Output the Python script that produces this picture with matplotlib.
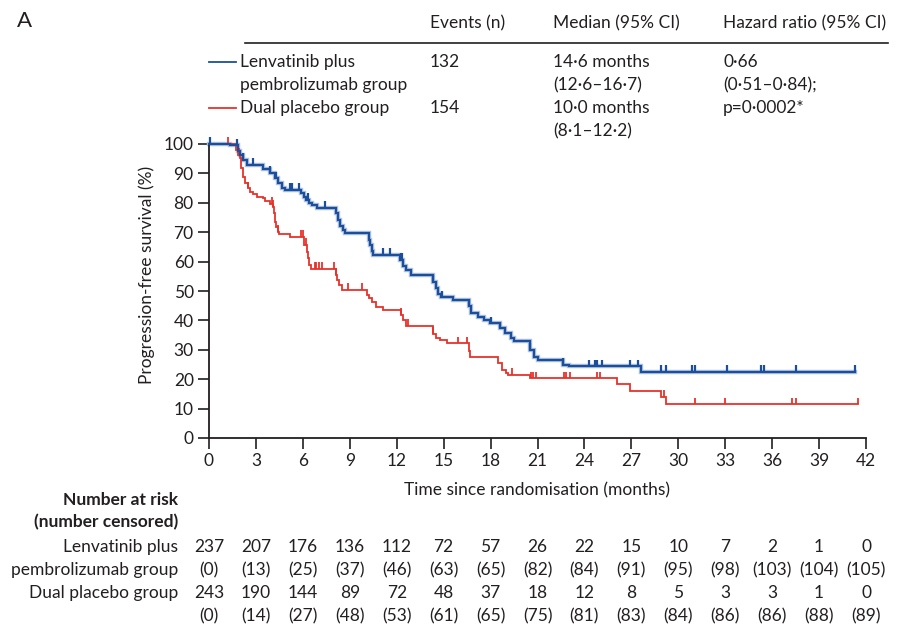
import numpy as np
import matplotlib
matplotlib.use('Agg')
import matplotlib.pyplot as plt
from matplotlib import font_manager
from matplotlib.transforms import blended_transform_factory

avail = {f.name for f in font_manager.fontManager.ttflist}
FONT = next((f for f in ['Lato', 'Liberation Sans', 'DejaVu Sans'] if f in avail), 'DejaVu Sans')
plt.rcParams['font.family'] = [FONT, 'DejaVu Sans']

# ---------------- data ----------------
lp_times = [0, 1.35, 1.85, 2.0, 2.2, 2.4, 3.45, 3.9, 4.2, 4.4, 4.65, 4.85, 5.9, 6.1, 6.2, 6.4,
            6.6, 6.9, 8.1, 8.25, 8.4, 8.55, 8.7, 10.2, 10.3, 10.4, 10.5, 12.2, 12.4, 12.6, 12.9,
            14.3, 14.5, 14.65, 14.8, 15.6, 16.6, 16.75, 17.2, 17.6, 17.95, 18.6, 18.9, 19.3, 19.5,
            20.5, 20.8, 21.0, 22.6, 23.0, 27.6]
lp_surv = [100, 99.5, 97.5, 96.3, 94.6, 92.9, 91.4, 90.2, 88.3, 86.6, 84.9, 84.4, 83.3, 82.0, 81.0, 80.0,
           79.2, 78.4, 76.5, 74.0, 72.0, 70.8, 69.8, 67.5, 65.5, 63.5, 62.2, 60.5, 58.5, 57.0, 55.4,
           53.0, 51.0, 49.0, 47.8, 47.1, 45.0, 42.4, 41.3, 40.1, 39.0, 37.3, 35.6, 33.9, 33.0,
           29.9, 27.7, 26.5, 24.9, 24.4, 22.6]
lp_end = 41.3
lp_censor = [0.05, 1.8, 2.2, 2.8, 3.9, 4.3, 5.2, 5.3, 5.75, 6.35, 7.4, 11.1, 11.6, 12.25, 12.3, 12.35,
             14.3, 14.9, 16.6, 18.0, 18.6, 20.5, 22.6, 24.3, 24.7, 24.8, 25.1, 26.9, 27.4, 28.9, 29.2,
             30.9, 31.1, 33.1, 35.3, 35.5, 37.5, 41.3]

pl_times = [0, 1.75, 1.85, 2.0, 2.05, 2.15, 2.3, 2.5, 2.6, 2.8, 3.1, 3.45, 3.6, 3.9, 4.1, 4.15, 4.2,
            4.3, 4.4, 4.5, 5.15, 6.1, 6.25, 6.3, 6.4, 6.5, 8.1, 8.2, 8.3, 8.5, 10.1, 10.25, 10.45,
            10.7, 11.1, 12.25, 12.4, 12.6, 14.3, 14.5, 14.75, 15.2, 16.6, 16.7, 18.5, 18.7, 19.0,
            19.1, 20.5, 26.1, 26.9, 28.9, 29.2]
pl_surv = [100, 98.0, 96.3, 95.1, 91.7, 88.9, 86.6, 84.9, 83.8, 82.9, 82.1, 81.5, 80.5, 79.6, 78.7, 76.4, 73.6,
           71.9, 70.2, 69.3, 68.3, 65.6, 63.4, 61.1, 58.8, 57.5, 55.4, 53.7, 52.0, 50.3, 48.6, 47.5, 46.4,
           44.7, 43.5, 41.8, 40.1, 38.1, 35.5, 33.9, 33.3, 32.2, 29.5, 27.4, 25.5, 23.1, 22.0,
           21.4, 20.3, 18.2, 16.1, 14.0, 11.4]
pl_end = 41.5
pl_censor = [1.2, 1.9, 2.5, 4.0, 4.1, 4.4, 5.9, 6.0, 6.2, 6.75, 6.85, 7.0, 7.2, 8.0, 8.1, 8.9, 9.8,
             12.3, 12.7, 14.3, 15.9, 16.5, 19.4, 20.6, 20.7, 20.9, 22.7, 22.8, 23.1, 24.8, 25.0, 29.1,
             31.1, 33.0, 37.3, 37.5, 41.5]

risk_times = [0, 3, 6, 9, 12, 15, 18, 21, 24, 27, 30, 33, 36, 39, 42]
lp_risk = [237, 207, 176, 136, 112, 72, 57, 26, 22, 15, 10, 7, 2, 1, 0]
lp_cens_n = [0, 13, 25, 37, 46, 63, 65, 82, 84, 91, 95, 98, 103, 104, 105]
pl_risk = [243, 190, 144, 89, 72, 48, 37, 18, 12, 8, 5, 3, 3, 1, 0]
pl_cens_n = [0, 14, 27, 48, 53, 61, 65, 75, 81, 83, 84, 86, 86, 88, 89]

yticks = [0, 10, 20, 30, 40, 50, 60, 70, 80, 90, 100]

BLUE = '#1b4f9c'
BLUE_HALO = '#b3c6e2'
RED = '#e8312b'
TXT = '#231f20'

W, H = 899, 633
fig = plt.figure(figsize=(W / 100, H / 100), dpi=100)


def fx(x):
    return x / W


def fy(y):
    return 1 - y / H


ax = fig.add_axes([fx(209), fy(438), fx(866) - fx(209), fy(144) - fy(438)])
ax.set_xlim(0, 42)
ax.set_ylim(0, 100)
for s in ['top', 'right']:
    ax.spines[s].set_visible(False)
for s in ['left', 'bottom']:
    ax.spines[s].set_linewidth(1.3)
    ax.spines[s].set_color(TXT)
ax.set_xticks(risk_times)
ax.set_yticks(yticks)
ax.tick_params(direction='out', length=8, width=1.2, color=TXT, labelsize=12.5,
               labelcolor=TXT, pad=3)


def surv_at(times, surv, t):
    idx = np.searchsorted(np.asarray(times), np.asarray(t), side='right') - 1
    return np.asarray(surv)[idx]


def draw_curve(times, surv, end, censor, color, lw, halo=None):
    xs = list(times) + [end]
    ys = list(surv) + [surv[-1]]
    if halo:
        ax.step(xs, ys, where='post', color=halo, lw=lw + 1.6, clip_on=False, zorder=2,
                solid_joinstyle='miter')
    ax.step(xs, ys, where='post', color=color, lw=lw, clip_on=False, zorder=3,
            solid_joinstyle='miter')
    cs = surv_at(times, surv, censor)
    ax.vlines(censor, cs, cs + 2.3, color=color, lw=lw, clip_on=False, zorder=3)


draw_curve(pl_times, pl_surv, pl_end, pl_censor, RED, 1.3)
draw_curve(lp_times, lp_surv, lp_end, lp_censor, BLUE, 1.6, halo=BLUE_HALO)

fs = 12.5
# y label and x label
fig.text(fx(147), fy(275), 'Progression-free survival (%)', rotation=90, ha='center', va='center',
         fontsize=fs, color=TXT)
fig.text(fx(537), fy(490), 'Time since randomisation (months)', ha='center', va='center',
         fontsize=fs, color=TXT)

# panel letter
fig.text(fx(17), fy(21), 'A', ha='left', va='center', fontsize=16, color=TXT)

# header table
fig.text(fx(430), fy(23), 'Events (n)', ha='left', va='center', fontsize=fs, color=TXT)
fig.text(fx(553), fy(23), 'Median (95% CI)', ha='left', va='center', fontsize=fs, color=TXT)
fig.text(fx(723), fy(23), 'Hazard ratio (95% CI)', ha='left', va='center', fontsize=fs, color=TXT)
fig.add_artist(plt.Line2D([fx(245), fx(888)], [fy(43), fy(43)], color=TXT, lw=1.2))

fig.add_artist(plt.Line2D([fx(209), fx(236)], [fy(62), fy(62)], color=BLUE, lw=1.3))
fig.add_artist(plt.Line2D([fx(209), fx(236)], [fy(108), fy(108)], color=RED, lw=1.3))
rows = [
    (62, 'Lenvatinib plus', '132', '14·6 months', '0·66'),
    (85, 'pembrolizumab group', '', '(12·6–16·7)', '(0·51–0·84);'),
    (108, 'Dual placebo group', '154', '10·0 months', 'p=0·0002*'),
    (131, '', '', '(8·1–12·2)', ''),
]
for y, a, b, c, d in rows:
    for x, t in [(240, a), (430, b), (553, c), (723, d)]:
        if t:
            fig.text(fx(x), fy(y), t, ha='left', va='center', fontsize=fs, color=TXT)

# number at risk table
fig.text(fx(178), fy(500), 'Number at risk', ha='right', va='center', fontsize=fs, color=TXT,
         fontweight='bold')
fig.text(fx(178), fy(522), '(number censored)', ha='right', va='center', fontsize=fs, color=TXT,
         fontweight='bold')
labels = [(547, 'Lenvatinib plus'), (570, 'pembrolizumab group'), (593, 'Dual placebo group')]
for y, t in labels:
    fig.text(fx(178), fy(y), t, ha='right', va='center', fontsize=fs, color=TXT)

tr = blended_transform_factory(ax.transData, fig.transFigure)
for vals, y, paren in [(lp_risk, 547, False), (lp_cens_n, 570, True),
                       (pl_risk, 593, False), (pl_cens_n, 616, True)]:
    for t, v in zip(risk_times, vals):
        s = f'({v})' if paren else str(v)
        ax.text(t, fy(y), s, transform=tr, ha='center', va='center', fontsize=fs, color=TXT,
                clip_on=False)

fig.savefig('out.png', dpi=100)
